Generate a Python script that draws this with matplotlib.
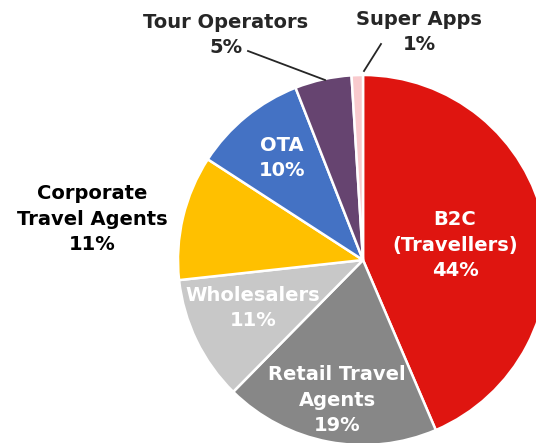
import matplotlib.pyplot as plt

# Data
labels = ["B2C\n(Travellers)", "Retail Travel\nAgents", "Wholesalers", "Corporate\nTravel Agents", "OTA", "Tour Operators", "Super Apps"]
shares = [44, 19, 11, 11, 10, 5, 1]
colors = ["#DF1510", "#878787", "#C8C8C8", "#FFC000", "#4472C4", "#664470", "#F9CACD"]

W, H = 536, 443
fig = plt.figure(figsize=(W / 100, H / 100), dpi=100)
ax = fig.add_axes([0, 0, 1, 1])

cx, cy, r = 363, H - 260, 185
ax.pie(shares, colors=colors, startangle=90, counterclock=False,
       center=(cx, cy), radius=r, frame=True,
       wedgeprops=dict(edgecolor="white", linewidth=1.8))
ax.set_xlim(0, W)
ax.set_ylim(0, H)
ax.set_aspect("equal")
ax.axis("off")

kw = dict(ha="center", va="center", fontsize=14, fontweight="bold", linespacing=1.43)

# labels (pixel coords from top)
def put(x, y, s, c):
    ax.text(x, H - y, s, color=c, **kw)

put(455, 245, f"{labels[0]}\n{shares[0]}%", "white")
put(337, 400, f"{labels[1]}\n{shares[1]}%", "white")
put(253, 308, f"{labels[2]}\n{shares[2]}%", "white")
put(92, 219, f"{labels[3]}\n{shares[3]}%", "black")
put(282, 158, f"{labels[4]}\n{shares[4]}%", "white")
put(226, 35, f"{labels[5]}\n{shares[5]}%", "#262626")
put(419, 32, f"{labels[6]}\n{shares[6]}%", "#262626")

# leader lines
ax.plot([248, 325], [H - 51, H - 80], color="#262626", lw=1.3)
ax.plot([381, 364], [H - 44, H - 71], color="#262626", lw=1.3)

fig.savefig("out.png", dpi=100)
